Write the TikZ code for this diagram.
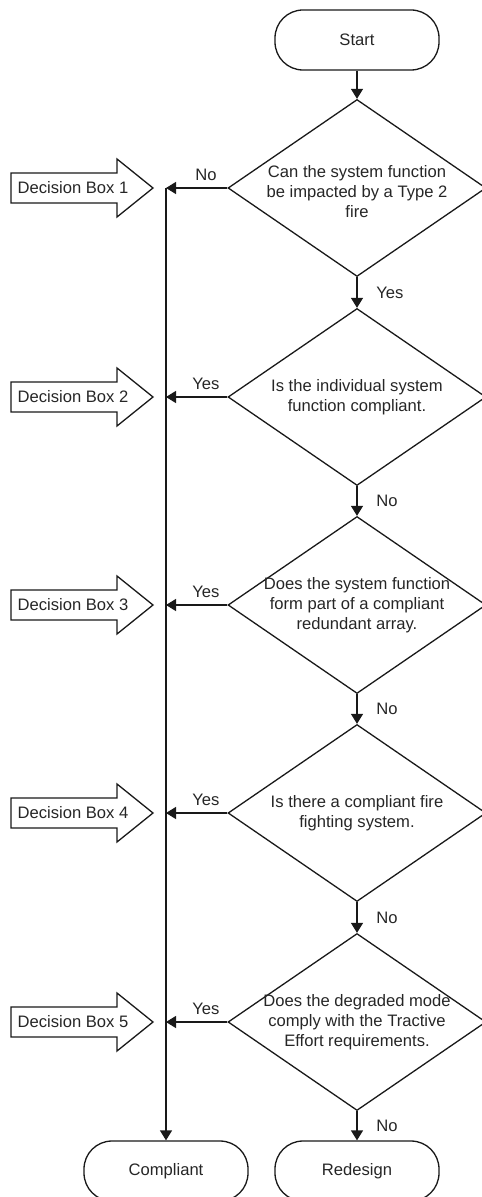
\documentclass[tikz,border=0pt]{standalone}
\usepackage{fontspec}
\setmainfont{Liberation Sans}
\usetikzlibrary{shapes.geometric,arrows.meta}

\tikzset{
  every node/.style={font=\fontsize{8.3pt}{10pt}\selectfont, text=black!85},
  terminal/.style={draw, rectangle, rounded corners=14pt, minimum width=82pt, minimum height=30pt, inner sep=0pt},
  decision/.style={draw, diamond, minimum width=129pt, minimum height=88.5pt, inner sep=0pt},
  question/.style={align=center, inner sep=0pt},
  boxtext/.style={inner sep=0pt},
  flow/.style={-{Triangle[length=5pt,width=6pt]}},
}

\begin{document}
\begin{tikzpicture}[x=0.5pt, y=-0.5pt, line width=0.65pt, draw=black!90]
  \useasboundingbox (0,0) rectangle (481,1197);

  \node[terminal] (start) at (357,40) {Start};

  \node[decision] (d1) at (357,188) {};
  \node[question] (q1) at (357,192) {Can the system function\\be impacted by a Type 2\\fire};
  \node[decision] (d2) at (357,397) {};
  \node[question] (q2) at (d2.center) {Is the individual system\\function compliant.};
  \node[decision] (d3) at (357,605) {};
  \node[question] (q3) at (d3.center) {Does the system function\\form part of a compliant\\redundant array.};
  \node[decision] (d4) at (357,813) {};
  \node[question] (q4) at (d4.center) {Is there a compliant fire\\fighting system.};
  \node[decision] (d5) at (357,1022) {};
  \node[question] (q5) at (d5.center) {Does the degraded mode\\comply with the Tractive\\Effort requirements.};

  \node[terminal] (comp) at (166,1171) {Compliant};
  \node[terminal] (redes) at (357,1171) {Redesign};

  % collecting line on the left
  \coordinate (bus1) at (166,188);
  \coordinate (bus2) at (166,397);
  \coordinate (bus3) at (166,605);
  \coordinate (bus4) at (166,813);
  \coordinate (bus5) at (166,1022);

  \draw[flow] (start) -- (d1);
  \draw[flow] (d1) -- (d2) node[midway, right=6pt] {Yes};
  \draw[flow] (d2) -- (d3) node[midway, right=6pt] {No};
  \draw[flow] (d3) -- (d4) node[midway, right=6pt] {No};
  \draw[flow] (d4) -- (d5) node[midway, right=6pt] {No};
  \draw[flow] (d5) -- (redes) node[midway, right=6pt] {No};

  \draw[flow] (d1.west) -- (bus1) node[pos=0.35, above] {No};
  \draw[flow] (d2.west) -- (bus2) node[pos=0.35, above] {Yes};
  \draw[flow] (d3.west) -- (bus3) node[pos=0.35, above] {Yes};
  \draw[flow] (d4.west) -- (bus4) node[pos=0.35, above] {Yes};
  \draw[flow] (d5.west) -- (bus5) node[pos=0.35, above] {Yes};
  \draw[flow] (bus1) -- (comp);

  % decision box arrows
  \draw (11,173) -- (117,173) -- (117,159) -- (153,188) -- (117,217) -- (117,203) -- (11,203) -- cycle;
  \node[boxtext] (box1) at (73,188) {Decision Box 1};
  \draw (11,382) -- (117,382) -- (117,368) -- (153,397) -- (117,426) -- (117,412) -- (11,412) -- cycle;
  \node[boxtext] (box2) at (73,397) {Decision Box 2};
  \draw (11,590) -- (117,590) -- (117,576) -- (153,605) -- (117,634) -- (117,620) -- (11,620) -- cycle;
  \node[boxtext] (box3) at (73,605) {Decision Box 3};
  \draw (11,798) -- (117,798) -- (117,784) -- (153,813) -- (117,842) -- (117,828) -- (11,828) -- cycle;
  \node[boxtext] (box4) at (73,813) {Decision Box 4};
  \draw (11,1007) -- (117,1007) -- (117,993) -- (153,1022) -- (117,1051) -- (117,1037) -- (11,1037) -- cycle;
  \node[boxtext] (box5) at (73,1022) {Decision Box 5};
\end{tikzpicture}
\end{document}
